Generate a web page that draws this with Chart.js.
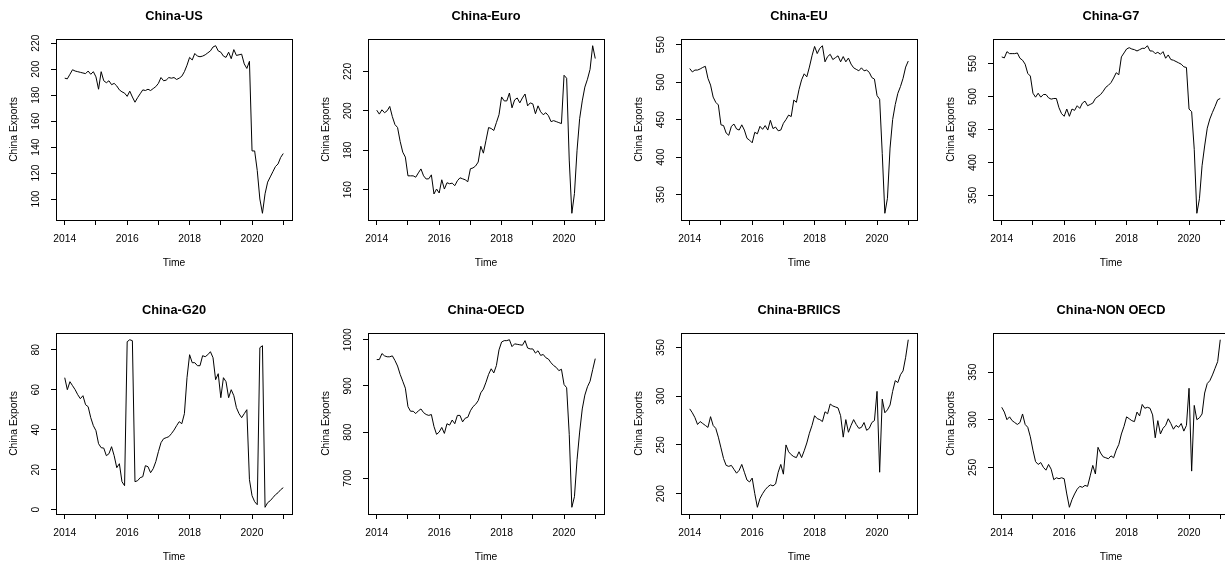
<!DOCTYPE html>
<html><head><meta charset="utf-8">
<script src="https://cdn.jsdelivr.net/npm/chart.js@4/dist/chart.umd.min.js"></script>
<style>
html,body{margin:0;padding:0;background:#fff;overflow:hidden;width:1225px;height:565px;position:relative}
canvas{position:absolute;display:block}
</style></head><body>
<script>
// ---- data (monthly, Jan 2014 .. Jan 2021) ----
const startYear = 2014;
const xTickValues = [2014, 2015, 2016, 2017, 2018, 2019, 2020, 2021];
const xTickLabels = ['2014', '', '2016', '', '2018', '', '2020', ''];
const titles = ['China-US', 'China-Euro', 'China-EU', 'China-G7', 'China-G20', 'China-OECD', 'China-BRIICS', 'China-NON OECD'];

const usExports = [193,192.5,196,199.5,198.5,198,197.5,197,196.5,198.5,196,198,
 194,184.5,198,191,189.5,191,188,189,187,184,182.5,181.5,
 179,183,178.5,174.5,178,181,184,183.5,184.5,183.5,185,186.5,
 189,193.5,191,191.5,193.5,193,193.5,192,193,194.5,198,203,
 209,207,212,210,209.5,210,211,212.5,214,217,218,214,
 213,210,209,213,208,215,210.5,211,211.5,204,200.5,206,
 137,137,122,100,89,104,113,117,121,125,127,132,135];
const euroExports = [200.3,198.3,200.5,199,200,202.2,197,193,191.5,184.5,179,176.5,
 167,167,167,166.3,168.5,170.5,167,165.4,165.5,167.5,157.8,160.3,
 158.3,165,160.3,163.5,163,163.3,162,164.5,166,165.5,165,164,
 170.6,171,172,174,182,178.5,185,191.5,191,190,194,198,
 207,205,205,209,201.5,205.5,206.5,204,206.5,208.5,202.5,204,
 203.5,198.5,202.5,199.5,198,199,197.5,194.5,195,194.5,194,193.5,
 218,216.5,175,148,158,180,196,205,212,216,221,233,226.5];
const euExports = [518,513.5,516,516,517.5,519.5,521,505,496,480,473,469.5,
 443,442,432,429,441,444,437.5,436,443,436,425,422.5,
 419,433,431,441,437,442,436,449,438,440,435,436,
 445,450,456,454,476,473,490,503,511,507,520,535,
 547.5,538,545,548.5,527,534,537,530,532.5,535,527,534,
 527,532,524,519,517,515,519,515,516,513,506,504,
 482,477,405,325,345,412,450,470,485,494,505,520,528];
const g7Exports = [560,558.5,568,565,565,565,566,558,555,549,535,531,
 505,499,505,499,503,503,498,496,497,497,483,474,
 470,481,470,481,479,486,482,490,493,486,488,490,
 497,500,503,508,514,517,521,528,536,533,560,566,
 572,574,572,571,569,571,573,573,577,569,569,565,
 567,564,568,558,563,556,555,553,551,549,545,544,
 481,477,420,323,345,395,425,452,466,476,485,495,497];
const g20Exports = [66,60,64,62,60,57.5,55.5,57,52.5,51.5,46,42,
 39.5,33,31,30.8,27,28,31.5,27,21,23,14,12,
 84,85,84.5,14,14.5,16,16.5,22,21.5,18.5,20.5,24,
 29,33.5,35.5,36,36.5,38,39.8,42,44,43,48,66,
 77.5,73.5,73.5,72,72,77,76.5,77.5,79,76,65,68,
 56,66,64,56,60,57,51,48,46,48,50,15,
 7,4,2.5,81,82,1.2,3.5,4.5,6,7.5,8.5,10,11];
const oecdExports = [957,957,970,965,963,963,965,955,943,925,910,895,
 855,845,845,840,846,850,842,838,836,838,812,795,
 800,810,797,818,815,826,818,836,836,822,830,832,
 846,855,860,868,885,893,908,925,937,928,944,978,
 995,998,998,1000,985,991,990,989,988,998,982,980,
 980,971,976,966,968,961,958,950,944,940,933,936,
 903,896,795,637,660,740,800,850,880,898,910,935,959];
const briicsExports = [287,283,278,271,274,272,270,268,279,270,267,258,
 247,236,229,228,229,225,221,224,230,222,214,212,
 216,200,186,195,200,204,207,209,208,210,222,230,
 220,250,243,240,238,237,243,237,244,252,262,270,
 280,277,276,274,284,282,292,290,289,288,280,258,
 276,263,270,276,271,267,268,273,265,267,273,275,
 305,222,297,283,286,291,305,316,314,322,326,340,358];
const nonOecdExports = [313,308,300,303,299,297,295,297,306,295,292,282,
 268,256,253,255,250,247,253,248,237,239,238,239,
 238,222,208,216,222,227,230,229,231,230,241,252,
 243,271,265,261,260,259,262,260,268,274,285,293,
 303,301,299,298,308,304,316,312,313,312,305,281,
 299,285,291,294,301,296,290,294,292,296,288,294,
 333,246,315,300,302,306,328,338,341,347,354,361,384];

const yTicksUS = [100, 120, 140, 160, 180, 200, 220];
const yTicksEuro = [160, 180, 200, 220];
const yTicksEU = [350, 400, 450, 500, 550];
const yTicksG7 = [350, 400, 450, 500, 550];
const yTicksG20 = [0, 20, 40, 60, 80];
const yTicksOECD = [700, 800, 900, 1000];
const yTicksBRIICS = [200, 250, 300, 350];
const yTicksNonOECD = [250, 300, 350];

const seriesList = [usExports, euroExports, euExports, g7Exports, g20Exports, oecdExports, briicsExports, nonOecdExports];
const yTickList = [yTicksUS, yTicksEuro, yTicksEU, yTicksG7, yTicksG20, yTicksOECD, yTicksBRIICS, yTicksNonOECD];

// ---- layout / style ----
const colLeft = [0, 312, 625, 937];
const rowTop = [0, 294];
const CW = 312, CH = 294;
const FAMILY = "'Liberation Sans', Arial, sans-serif";
const tickFont = {family: FAMILY, size: 10.3};
const titleFont = {family: FAMILY, size: 12.8, weight: 'bold'};

const measureCtx = document.createElement('canvas').getContext('2d');
measureCtx.font = `normal normal ${tickFont.size}px ${FAMILY}`;

const boxPlugin = {
  id: 'rbox',
  afterDraw(chart) {
    const {ctx, chartArea: a} = chart;
    const l = Math.round(a.left), t = Math.round(a.top), r = Math.round(a.right), b = Math.round(a.bottom);
    ctx.save();
    ctx.strokeStyle = '#000';
    ctx.lineWidth = 1;
    ctx.strokeRect(l + 0.5, t + 0.5, r - l, b - t);
    ctx.restore();
  }
};

titles.forEach((title, i) => {
  const values = seriesList[i];
  const yTicks = yTickList[i];
  const cv = document.createElement('canvas');
  cv.width = CW; cv.height = CH;
  cv.style.left = colLeft[i % 4] + 'px';
  cv.style.top = rowTop[Math.floor(i / 4)] + 'px';
  cv.style.width = CW + 'px'; cv.style.height = CH + 'px';
  document.body.appendChild(cv);

  const pts = values.map((v, k) => ({x: startYear + k / 12, y: v}));
  const lo = Math.min(...values), hi = Math.max(...values), pad = (hi - lo) * 0.04;
  const x0 = xTickValues[0], x1 = xTickValues[xTickValues.length - 1], xpad = (x1 - x0) * 0.04;
  const widest = Math.max(...yTicks.map(v => measureCtx.measureText(String(v)).width));
  const yPad = 14.5 - widest / 2;

  new Chart(cv, {
    type: 'line',
    data: {datasets: [{data: pts, borderColor: '#000', borderWidth: 1, pointRadius: 0, tension: 0, fill: false}]},
    options: {
      responsive: false, animation: false, events: [],
      layout: {padding: {left: 0, right: 20, top: 0, bottom: 0}},
      plugins: {
        legend: {display: false}, tooltip: {enabled: false},
        title: {display: true, text: title, fullSize: false, color: '#000', font: titleFont, padding: {top: 8.3, bottom: 15.34}}
      },
      scales: {
        x: {
          type: 'linear', min: x0 - xpad, max: x1 + xpad,
          afterBuildTicks: s => { s.ticks = xTickValues.map(v => ({value: v})); },
          afterFit: s => { s.height = 74; },
          ticks: {autoSkip: false, maxRotation: 0, minRotation: 0, color: '#000', font: tickFont, padding: 8.1,
            callback: v => { const k = xTickValues.indexOf(v); return k >= 0 ? xTickLabels[k] : ''; }},
          grid: {display: true, drawOnChartArea: false, drawTicks: true, tickLength: 5, color: '#000', lineWidth: 1},
          border: {display: false},
          title: {display: true, text: 'Time', color: '#000', font: tickFont, padding: {top: 0, bottom: 24.5}}
        },
        y: {
          type: 'linear', min: lo - pad, max: hi + pad,
          afterBuildTicks: s => { s.ticks = yTicks.map(v => ({value: v})); },
          afterFit: s => { s.width = 56; },
          ticks: {autoSkip: false, minRotation: 90, maxRotation: 90, crossAlign: 'center', color: '#000', font: tickFont, padding: yPad,
            callback: v => String(v)},
          grid: {display: true, drawOnChartArea: false, drawTicks: true, tickLength: 5, color: '#000', lineWidth: 1},
          border: {display: false},
          title: {display: true, text: 'China Exports', color: '#000', font: tickFont, padding: {top: 7.82, bottom: 0}}
        }
      }
    },
    plugins: [boxPlugin]
  });
});
</script>
</body></html>
